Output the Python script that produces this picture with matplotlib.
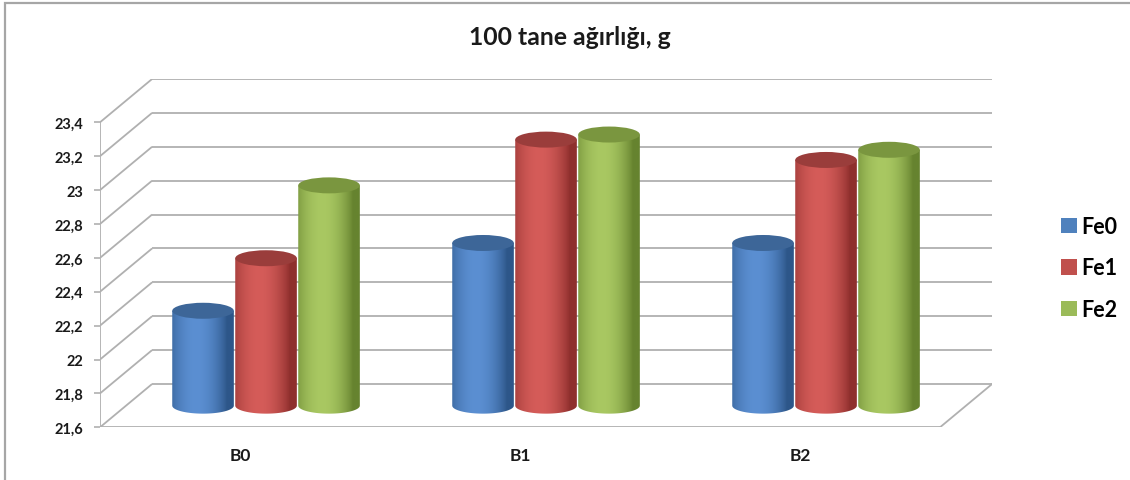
import numpy as np
import matplotlib
matplotlib.use("Agg")
import matplotlib.pyplot as plt
from matplotlib.patches import Ellipse, Rectangle, PathPatch, Patch
from matplotlib.path import Path
from matplotlib.colors import to_rgb

# ---- data -------------------------------------------------------------
categories = ["B0", "B1", "B2"]
series_names = ["Fe0", "Fe1", "Fe2"]
fe0 = [22.16, 22.56, 22.56]
fe1 = [22.47, 23.17, 23.05]
fe2 = [22.90, 23.20, 23.11]
y_ticks = [21.6, 21.8, 22.0, 22.2, 22.4, 22.6, 22.8, 23.0, 23.2, 23.4]
title = "100 tane ağırlığı, g"

# ---- style ------------------------------------------------------------
FONT = ["Lato", "DejaVu Sans"]
plt.rcParams["font.family"] = FONT
TEXT = "#1a1a1a"
GRID = "#b0b0b0"
# (edge/dark, highlight, top face) per series
palette = [
    ("#2d5689", "#5b8fd2", "#3d6698"),
    ("#8e2f2d", "#d55c59", "#9a3d3b"),
    ("#66832f", "#a9c862", "#7a963f"),
]
legend_colors = ["#4f81bd", "#c0504d", "#9bbb59"]

W, H = 1130, 481
fig = plt.figure(figsize=(W / 100, H / 100), dpi=100)

YMIN, YMAX = 21.6, 23.4
DX = 0.186     # depth shift of the back wall, category units
DY = 0.2555    # depth shift of the back wall, value units
PX_PER_CAT = 280.0
front_bottom_px = 428.3
back_top_px = 80.0

ax = fig.add_axes([100 / W, (H - front_bottom_px) / H,
                   PX_PER_CAT * (3 + DX) / W,
                   (front_bottom_px - back_top_px) / H])
for s in ax.spines.values():
    s.set_visible(False)
ax.set_facecolor("none")

# ---- walls and gridlines ------------------------------------------------
x0, x1 = -0.5, len(categories) - 0.5
for v in y_ticks:
    ax.plot([x0, x0 + DX], [v, v + DY], color=GRID, lw=1.3, zorder=1,
            solid_capstyle="butt")
    ax.plot([x0 + DX, x1 + DX], [v + DY, v + DY], color=GRID, lw=1.3,
            zorder=1, solid_capstyle="butt")
# floor front edge and right side edge
ax.plot([x0, x1], [YMIN, YMIN], color=GRID, lw=1.3, zorder=1)
ax.plot([x1, x1 + DX], [YMIN, YMIN + DY], color=GRID, lw=1.3, zorder=1)
# value axis line
ax.plot([x0, x0], [YMIN, YMAX], color=GRID, lw=1.3, zorder=1)

# ---- cylinders ----------------------------------------------------------
BAR_STEP = 0.225
R = 0.11            # radius in category units
E = 8.0 / 169.5     # half height of the end ellipses in value units
N = 80
t = np.linspace(0, 1, N)
phi = (t - 0.5) * np.pi
shade = np.clip(np.cos(phi + 0.35), 0, 1) ** 0.8


def cylinder(xc, top, dark, light, topc, z):
    yb = YMIN + DY / 2
    yt = top + DY / 2
    ang = np.linspace(np.pi, 2 * np.pi, 40)
    verts = [(xc - R, yt), (xc - R, yb)]
    verts += list(zip(xc + R * np.cos(ang), yb + E * np.sin(ang)))
    verts += [(xc + R, yb), (xc + R, yt), (xc - R, yt)]
    codes = [Path.MOVETO] + [Path.LINETO] * (len(verts) - 2) + [Path.CLOSEPOLY]
    body = PathPatch(Path(verts, codes), facecolor="none", edgecolor="none",
                     zorder=z)
    ax.add_patch(body)
    d = np.array(to_rgb(dark))
    lc = np.array(to_rgb(light))
    img = d[None, :] + (lc - d)[None, :] * shade[:, None]
    im = ax.imshow(img[None, :, :], extent=[xc - R, xc + R, yb - E, yt],
                   aspect="auto", interpolation="bilinear", zorder=z)
    im.set_clip_path(body)
    ax.add_patch(Ellipse((xc, yt), 2 * R, 2 * E, facecolor=topc,
                         edgecolor="none", zorder=z + 0.1))


all_series = [fe0, fe1, fe2]
for i, vals in enumerate(all_series):
    dark, light, topc = palette[i]
    for j, v in enumerate(vals):
        xc = j + (i - 1) * BAR_STEP + DX / 2
        cylinder(xc, v, dark, light, topc, 3 + i)

ax.set_xlim(x0, x1 + DX)
ax.set_ylim(YMIN, YMAX + DY)

# ---- axis labels --------------------------------------------------------
ax.set_yticks(y_ticks)
ax.set_yticklabels([f"{v:g}".replace(".", ",") for v in y_ticks])
ax.tick_params(axis="y", length=4, width=1.2, color=GRID, pad=8,
               labelsize=10.5, labelcolor=TEXT)
ax.set_xticks(range(len(categories)))
ax.set_xticklabels(categories)
ax.tick_params(axis="x", length=0, pad=14, labelsize=12.5, labelcolor=TEXT)
for lab in ax.get_yticklabels() + ax.get_xticklabels():
    lab.set_fontweight("bold")

# ---- title, legend, frame -----------------------------------------------
fig.text(570 / W, 1 - 45 / H, title, ha="center", va="baseline",
         fontsize=17.8, fontweight="bold", color=TEXT)

handles = [Patch(facecolor=c, edgecolor="none") for c in legend_colors]
fig.legend(handles, series_names, loc="center left",
           bbox_to_anchor=(1061 / W, 1 - 269 / H), frameon=False,
           handlelength=0.72, handleheight=0.72, handletextpad=0.2,
           labelspacing=0.95, borderpad=0, borderaxespad=0,
           prop={"size": 15.5, "weight": "bold", "family": FONT})

fig.add_artist(Rectangle((5 / W, -0.05), 1.2, 1 - 4 / H + 0.05,
                         transform=fig.transFigure, facecolor="none",
                         edgecolor="#a6a6a6", lw=1.6, zorder=0))

fig.savefig("out.png", dpi=100)
